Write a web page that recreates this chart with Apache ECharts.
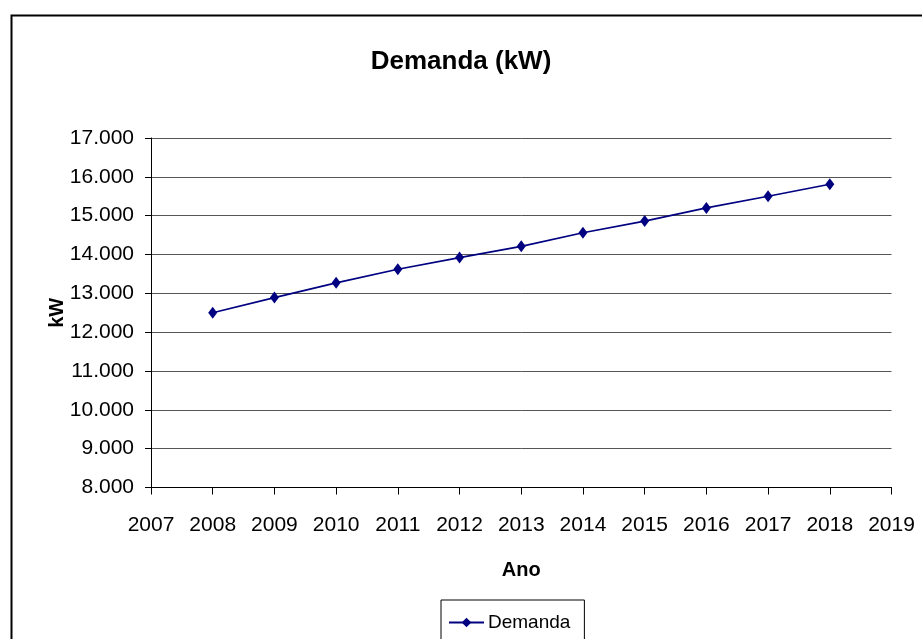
<!DOCTYPE html>
<html>
<head>
<meta charset="utf-8">
<script src="https://cdn.jsdelivr.net/npm/echarts@6/dist/echarts.min.js"></script>
<style>html,body{margin:0;padding:0;background:#fff;}#c{width:922px;height:639px;}</style>
</head>
<body>
<div id="c"></div>
<script>
var years = [2008, 2009, 2010, 2011, 2012, 2013, 2014, 2015, 2016, 2017, 2018];
var demanda = [12500, 12890, 13270, 13620, 13920, 14210, 14560, 14860, 15200, 15500, 15810];
var seriesName = 'Demanda';
var titleText = 'Demanda (kW)';
var xName = 'Ano';
var yName = 'kW';

var FONT = "'Liberation Sans Narrow','Arial Narrow','Liberation Sans',Arial,sans-serif";
var WIDE = "'Liberation Sans',Arial,sans-serif";

var chart = echarts.init(document.getElementById('c'), null, {renderer: 'canvas'});
chart.setOption({
  backgroundColor: '#fff',
  animation: false,
  graphic: [{
    type: 'rect', left: 9, top: 13, silent: true,
    shape: {x: 0, y: 0, width: 1000, height: 700},
    style: {fill: 'none', stroke: '#000', lineWidth: 2}
  }],
  title: {
    text: titleText, left: 'center', top: 44,
    textStyle: {fontFamily: WIDE, fontWeight: 'bold', fontSize: 26, color: '#000'}
  },
  legend: {
    data: [seriesName], left: 441, top: 600,
    backgroundColor: '#fff', borderColor: '#000', borderWidth: 1,
    padding: [13, 14, 40, 7], itemWidth: 35, itemHeight: 12, itemGap: 4,
    textStyle: {fontFamily: FONT, fontSize: 19, color: '#000', padding: [0,0,0,-1]}
  },
  grid: {left: 151, right: 30.5, top: 138, bottom: 151.5, containLabel: false},
  xAxis: {
    type: 'value', min: 2007, max: 2019, interval: 1,
    name: xName, nameLocation: 'middle', nameGap: 73, nameMoveOverlap: false,
    nameTextStyle: {fontFamily: WIDE, fontWeight: 'bold', fontSize: 20, color: '#000'},
    axisLine: {show: true, onZero: false, lineStyle: {color: '#000', width: 1}},
    axisTick: {show: true, inside: false, length: 7, lineStyle: {color: '#000'}},
    axisLabel: {fontFamily: FONT, fontSize: 21, color: '#000', margin: 27, formatter: function(v){return String(v);}},
    splitLine: {show: false}
  },
  yAxis: {
    type: 'value', min: 8000, max: 17000, interval: 1000,
    name: yName, nameLocation: 'middle', nameGap: 84, nameRotate: 90, nameMoveOverlap: false,
    nameTextStyle: {fontFamily: WIDE, fontWeight: 'bold', fontSize: 20, color: '#000'},
    axisLine: {show: true, lineStyle: {color: '#000', width: 1}},
    axisTick: {show: true, inside: false, length: 6, lineStyle: {color: '#000'}},
    axisLabel: {fontFamily: FONT, fontSize: 21, color: '#000', margin: 17,
      formatter: function(v){ return (v/1000).toFixed(3); }},
    splitLine: {show: true, lineStyle: {color: '#555', width: 1}}
  },
  series: [{
    name: seriesName, type: 'line',
    data: years.map(function(y, i){ return [y, demanda[i]]; }),
    symbol: 'diamond', symbolSize: [9, 12],
    lineStyle: {color: '#000080', width: 1.6},
    itemStyle: {color: '#000080'}
  }]
});
</script>
</body>
</html>
